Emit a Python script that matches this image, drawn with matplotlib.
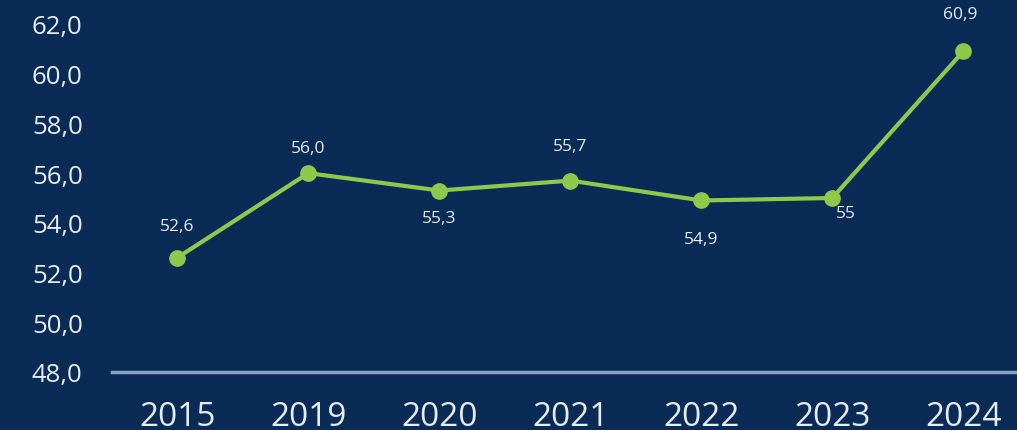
import matplotlib.pyplot as plt

years = ['2015', '2019', '2020', '2021', '2022', '2023', '2024']
values = [52.6, 56.0, 55.3, 55.7, 54.9, 55.0, 60.9]
labels = ['52,6', '56,0', '55,3', '55,7', '54,9', '55', '60,9']
# pixel offsets of each value label from its point
offsets = [(0, 32), (0, 25), (0, -27), (0, 35), (0, -39), (14, -15), (-3, 37)]
yticks = [48, 50, 52, 54, 56, 58, 60, 62]

bg = '#0a2b55'
green = '#8fc84a'
txt = '#e6edf5'

plt.rcParams['font.family'] = ['Open Sans', 'DejaVu Sans']

fig = plt.figure(figsize=(10.17, 4.31), dpi=100, facecolor=bg)
ax = fig.add_axes([0.110, 0.1346, 0.89, 0.8074], facecolor=bg)

x = list(range(len(years)))
ax.plot(x, values, color=green, lw=3, marker='o', ms=11, clip_on=False, zorder=3)

for xi, v, lab, (dx, dy) in zip(x, values, labels, offsets):
    ax.annotate(lab, (xi, v), xytext=(dx, dy), textcoords='offset pixels',
                ha='center', va='center', color=txt, fontsize=12.5)

ax.set_xlim(-0.5, 6.41)
ax.set_ylim(48, 62)
ax.set_yticks(yticks)
ax.set_yticklabels([f'{t:.1f}'.replace('.', ',') for t in yticks])
ax.set_xticks(x)
ax.set_xticklabels(years)

for s in ['top', 'right', 'left']:
    ax.spines[s].set_visible(False)
ax.spines['bottom'].set_color('#8ea2bd')
ax.spines['bottom'].set_linewidth(2.5)

ax.tick_params(axis='y', length=0, pad=21, labelsize=18.5, labelcolor=txt)
ax.tick_params(axis='x', length=0, pad=20, labelsize=24, labelcolor=txt)

fig.savefig('out.png', dpi=100, facecolor=bg)
